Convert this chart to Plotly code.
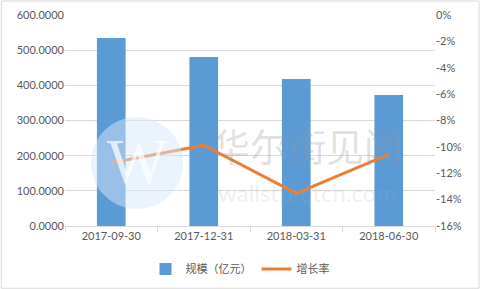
import plotly.graph_objects as go

categories = ["2017-09-30", "2017-12-31", "2018-03-31", "2018-06-30"]
scale_values = [534.5, 480.5, 418.0, 372.5]
growth_rates = [-0.112, -0.0988, -0.1352, -0.1056]
left_ticks = [0, 100, 200, 300, 400, 500, 600]
left_ticktext = ["0.0000", "100.0000", "200.0000", "300.0000", "400.0000", "500.0000", "600.0000"]
right_ticks = [0, -0.02, -0.04, -0.06, -0.08, -0.10, -0.12, -0.14, -0.16]
right_ticktext = ["0%", "-2%", "-4%", "-6%", "-8%", "-10%", "-12%", "-14%", "-16%"]

FONT = "Lato, 'Noto Sans CJK SC', sans-serif"
GRAY = "#595959"

fig = go.Figure()
fig.add_trace(go.Bar(x=categories, y=scale_values, name="规模（亿元）",
                     marker=dict(color="#5B9BD5", line=dict(width=0)), width=0.31))
fig.add_trace(go.Scatter(x=categories, y=growth_rates, name="增长率", yaxis="y2",
                         mode="lines", line=dict(color="#ED7D31", width=3)))

fig.update_layout(
    width=480, height=289,
    margin=dict(l=65, r=45, t=15, b=63, autoexpand=False),
    paper_bgcolor="white", plot_bgcolor="white",
    font=dict(family=FONT, size=11, color=GRAY),
    showlegend=True,
    legend=dict(orientation="h", xref="container", yref="container",
                x=0.50, xanchor="center", y=1 - 269 / 289, yanchor="middle",
                font=dict(family="'Noto Sans CJK SC', sans-serif", size=11, color=GRAY),
                itemwidth=30, tracegroupgap=0),
    xaxis=dict(type="category", showline=True, linecolor="#d9d9d9", linewidth=1,
               ticks="outside", tickson="boundaries", ticklen=5, tickcolor="#d9d9d9",
               showgrid=False, automargin=False, tickfont=dict(size=11, color=GRAY)),
    yaxis=dict(range=[0, 600], tickvals=left_ticks, ticktext=left_ticktext,
               showgrid=True, gridcolor="#d9d9d9", gridwidth=1, zeroline=False,
               showline=False, ticks="", automargin=False, tickfont=dict(size=11, color=GRAY)),
    yaxis2=dict(overlaying="y", side="right", range=[-0.16, 0], tickvals=right_ticks,
                ticktext=right_ticktext, showgrid=False, zeroline=False, showline=False,
                ticks="", automargin=False, tickfont=dict(size=11, color=GRAY)),
    bargap=0.69,
)

# watermark
fig.add_shape(type="circle", xref="paper", yref="paper", x0=0.0703, x1=0.319, y0=0.08, y1=0.517,
              fillcolor="rgba(215,232,250,0.5)", line=dict(width=0), layer="above")
fig.add_annotation(text="W", xref="paper", yref="paper", x=0.195, y=0.305, xanchor="center",
                   yanchor="middle", showarrow=False,
                   font=dict(family="Liberation Serif, serif", size=64, color="rgba(255,255,255,0.7)"))
fig.add_annotation(text="华尔街见闻", xref="paper", yref="paper", x=0.654, y=0.385, xanchor="center",
                   yanchor="middle", showarrow=False,
                   font=dict(family="'Noto Sans CJK SC', sans-serif", size=38, color="rgba(150,150,150,0.3)"))
fig.add_annotation(text="wallstreetcn.com", xref="paper", yref="paper", x=0.654, y=0.16, xanchor="center",
                   yanchor="middle", showarrow=False,
                   font=dict(family="Lato, sans-serif", size=24, color="rgba(170,170,170,0.2)"))

# outer border
fig.add_shape(type="rect", xref="paper", yref="paper", x0=-0.172, x1=1.119, y0=-0.295, y1=1.066,
              line=dict(color="#d9d9d9", width=1), fillcolor="rgba(0,0,0,0)", layer="above")

fig.write_html("out.html")
